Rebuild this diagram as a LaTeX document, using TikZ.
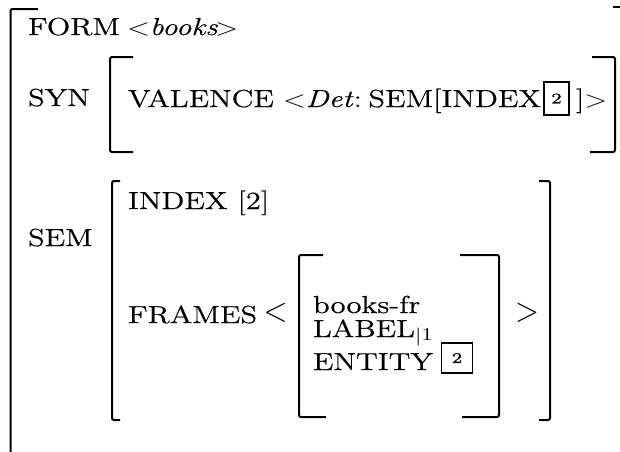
\documentclass[tikz,border=0pt]{standalone}
\usepackage{fontspec}
\setmainfont{Latin Modern Roman}[FakeBold=0.5]
\usepackage{graphicx}
\newcommand\wide[1]{\scalebox{1.25}[1]{#1}}
\newcommand\bigsym[1]{\scalebox{0.91}[1]{\fontsize{17.6}{20}\selectfont$#1$}}
\tikzset{
  t/.style={anchor=base west, inner sep=0pt, outer sep=0pt, font=\fontsize{12.3}{14}\selectfont},
  te/.style={t, anchor=base east},
  ibox/.style={draw, line width=0.7pt, inner sep=0pt, minimum width=12.5pt, minimum height=16.5pt, font=\fontsize{7.5}{8}\selectfont},
  ebox/.style={draw, line width=0.7pt, inner sep=0pt, minimum width=15.5pt, minimum height=15pt, font=\fontsize{7.5}{8}\selectfont},
  sym/.style={inner sep=0pt, outer sep=0pt},
  br/.style={line width=1pt, rounded corners=1pt}
}
\begin{document}
\begin{tikzpicture}[x=0.5pt, y=-0.5pt]
\useasboundingbox (0,0) rectangle (620,451);
\clip (0,0) rectangle (620,451);
% outer bracket
\draw[br] (38,9) -- (10.5,9) -- (10.5,470);
\draw[line width=0.8pt] (613,7) -- (625,7);
% FORM
\node[t] (form) at (28,35) {\wide{FORM}};
\node[t] (formv) at (127,35) {\wide{$<$\textit{books}\kern-1pt$>$}};
% SYN
\node[t] (syn) at (28,106) {\wide{SYN}};
\draw[br] (133,57) -- (110,57) -- (110,152) -- (133,152);
\draw[br] (592,57) -- (615,57) -- (615,152) -- (590,152);
\node[t] (val) at (128,107) {\wide{VALENCE}};
\node[t] (det) at (283,107) {\wide{$<$\textit{Det}:}};
\node[te] (semi) at (541,107) {\wide{SEM[INDEX}};
\node[ibox] (b1) at (556.5,98.5) {\wide{2}};
\node[t] (cl) at (576,107) {\wide{]$>$}};
% SEM
\node[t] (sem) at (28,246) {\wide{SEM}};
\draw[br] (120,181) -- (112,181) -- (112,420) -- (120,420);
\draw[br] (539,181) -- (550,181) -- (550,420) -- (539,420);
\node[t] (index) at (128,209) {\wide{INDEX [2]}};
\node[t] (frames) at (128,323) {\wide{FRAMES}};
\node[sym] (lt) at (275.5,312.5) {\bigsym{<}};
\node[sym] (gt) at (527,312.5) {\bigsym{>}};
% inner frame
\draw[br] (323,255) -- (299,255) -- (299,417) -- (326,417);
\draw[br] (460,255) -- (499,255) -- (499,417) -- (462,417);
\node[t] (bf) at (313,313) {\wide{books-fr}};
\node[t] (label) at (313,337) {\wide{LABEL\raisebox{-2pt}{\fontsize{9}{10}\selectfont$|$}$_1$}};
\node[t] (entity) at (313,370) {\wide{ENTITY}};
\node[ebox] (b2) at (457,358) {\wide{2}};
\end{tikzpicture}
\end{document}
